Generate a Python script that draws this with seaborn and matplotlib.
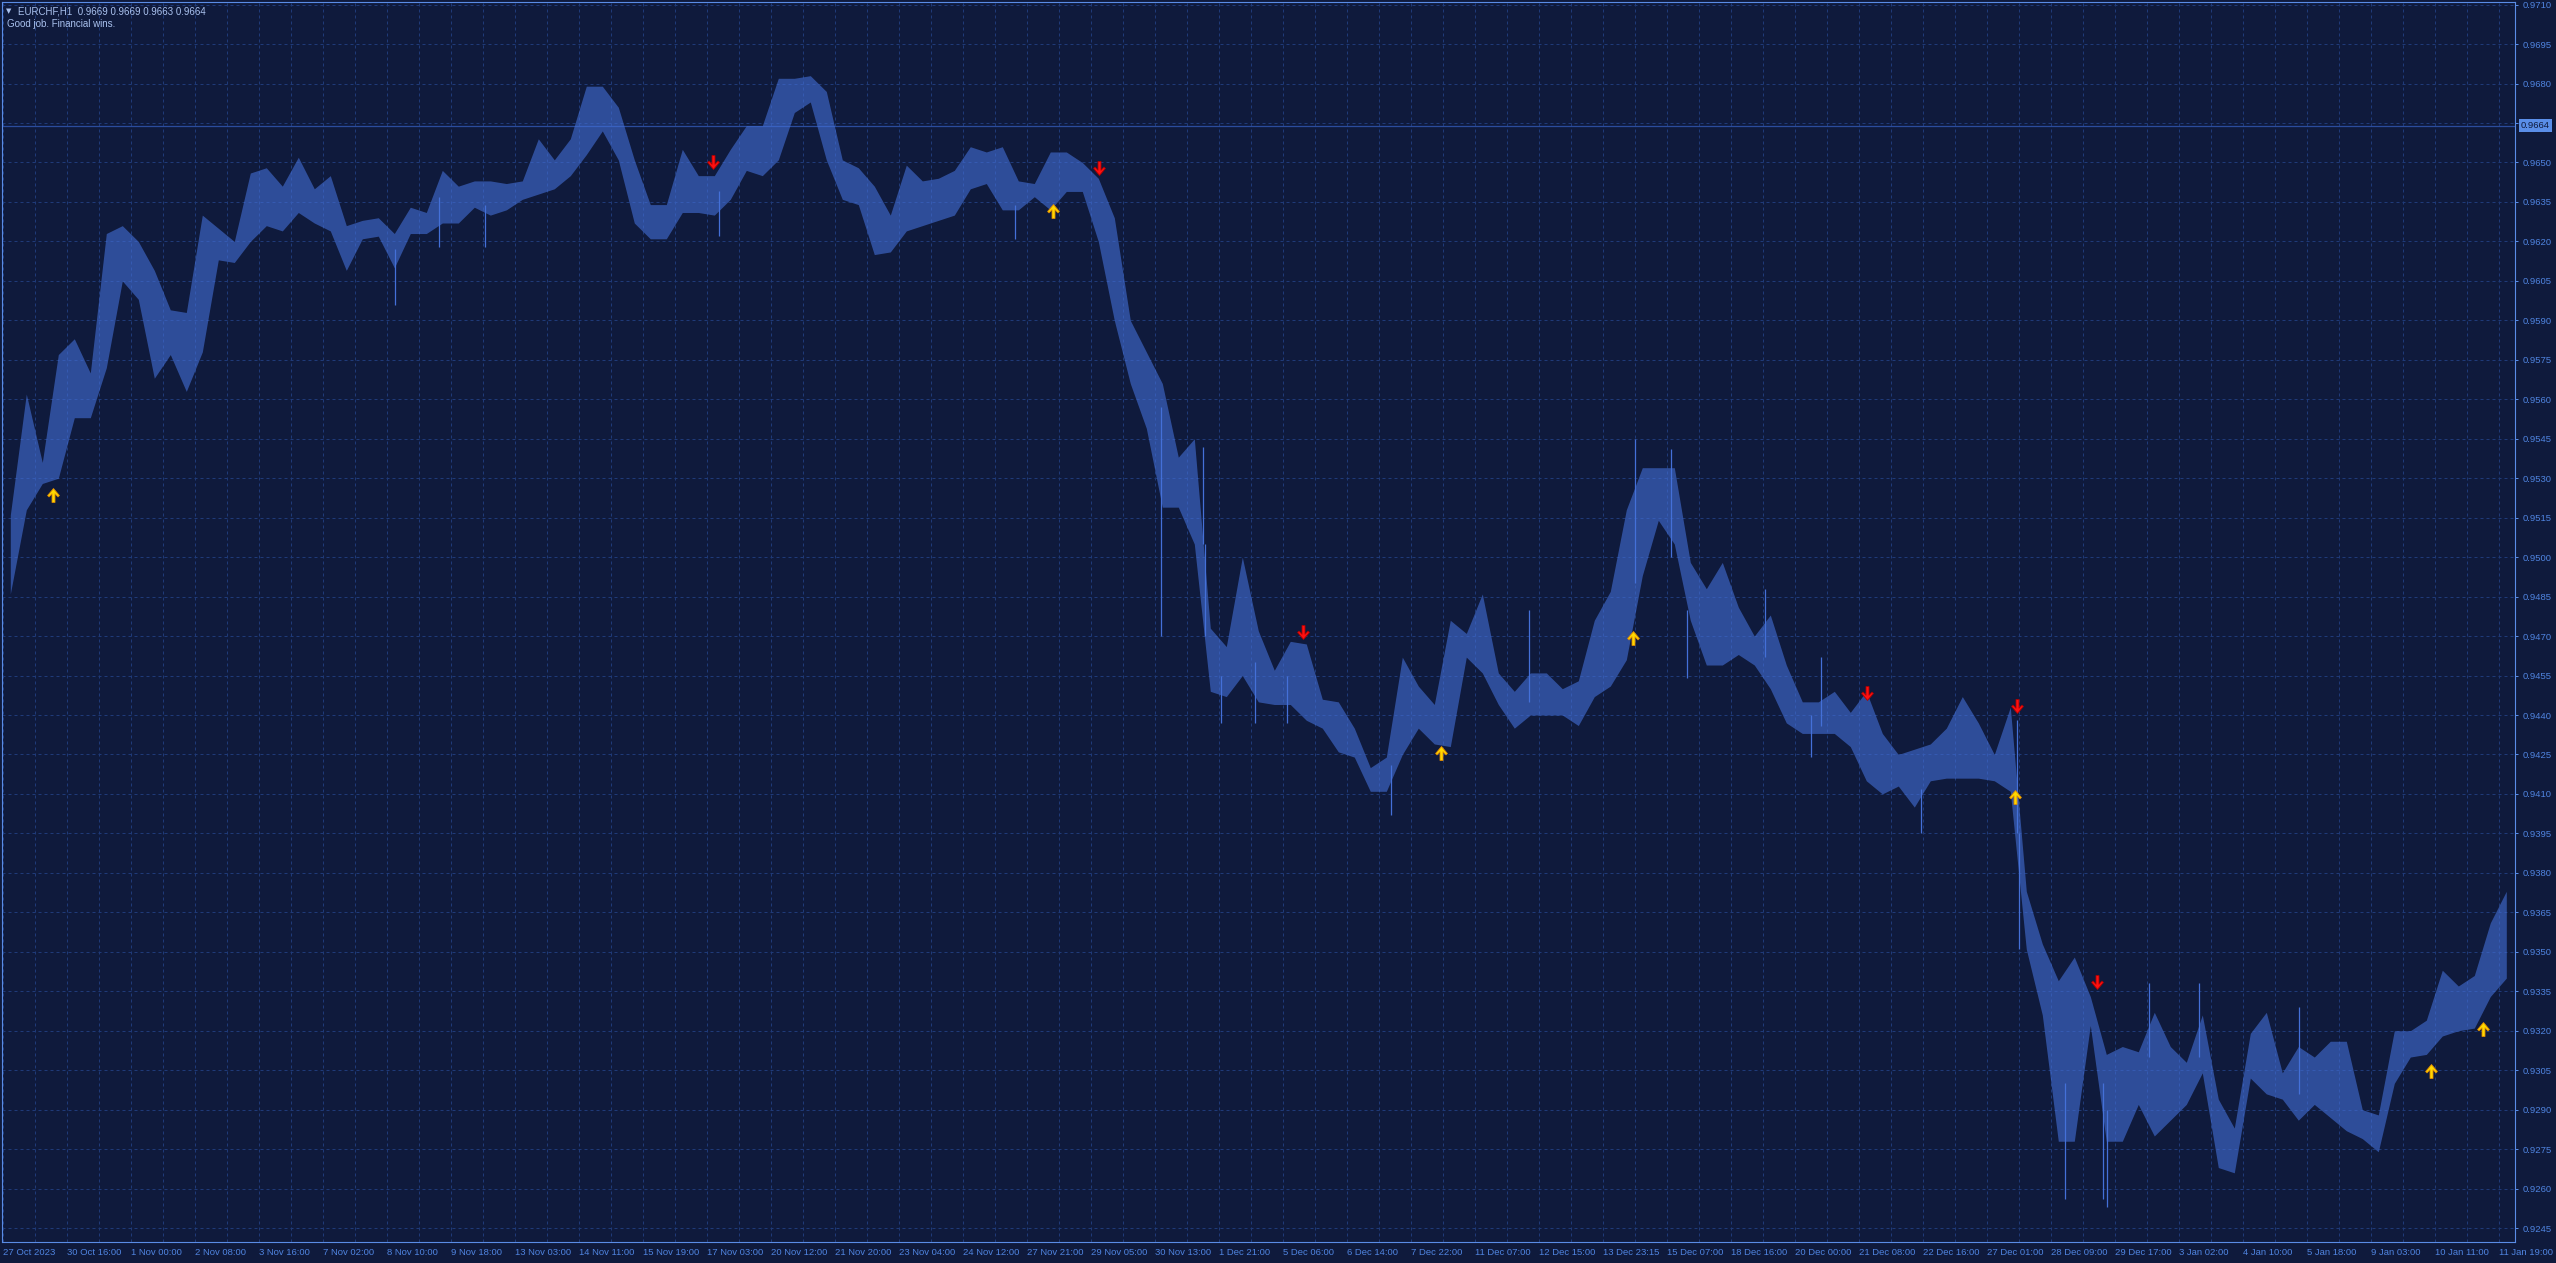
import numpy as np
import matplotlib
matplotlib.use("Agg")
import matplotlib.pyplot as plt
from matplotlib.path import Path
from matplotlib.markers import MarkerStyle
import seaborn as sns

# EURCHF H1 price range read per block of 8 hourly bars
block_high = [0.9516, 0.9562, 0.9536, 0.9577, 0.9583, 0.9570, 0.9623, 0.9626, 0.9620, 0.9609,
              0.9594, 0.9593, 0.9630, 0.9625, 0.9620, 0.9646, 0.9648, 0.9641, 0.9652, 0.9640,
              0.9645, 0.9626, 0.9628, 0.9629, 0.9623, 0.9633, 0.9631, 0.9647, 0.9641, 0.9643,
              0.9643, 0.9642, 0.9643, 0.9659, 0.9651, 0.9659, 0.9679, 0.9679, 0.9671, 0.9651,
              0.9634, 0.9634, 0.9655, 0.9645, 0.9645, 0.9655, 0.9664, 0.9664, 0.9682, 0.9682,
              0.9683, 0.9677, 0.9651, 0.9648, 0.9641, 0.9630, 0.9649, 0.9643, 0.9644, 0.9647,
              0.9656, 0.9654, 0.9656, 0.9643, 0.9642, 0.9654, 0.9654, 0.9650, 0.9644, 0.9629,
              0.9590, 0.9578, 0.9566, 0.9538, 0.9545, 0.9473, 0.9466, 0.9500, 0.9472, 0.9457,
              0.9468, 0.9467, 0.9446, 0.9445, 0.9435, 0.9420, 0.9424, 0.9462, 0.9451, 0.9444,
              0.9476, 0.9471, 0.9486, 0.9456, 0.9449, 0.9456, 0.9456, 0.9450, 0.9453, 0.9476,
              0.9487, 0.9518, 0.9534, 0.9534, 0.9534, 0.9498, 0.9488, 0.9498, 0.9481, 0.9470,
              0.9478, 0.9459, 0.9445, 0.9445, 0.9449, 0.9441, 0.9449, 0.9433, 0.9425, 0.9427,
              0.9429, 0.9435, 0.9447, 0.9437, 0.9425, 0.9443, 0.9373, 0.9353, 0.9339, 0.9348,
              0.9333, 0.9311, 0.9314, 0.9312, 0.9327, 0.9314, 0.9308, 0.9326, 0.9294, 0.9283,
              0.9319, 0.9327, 0.9304, 0.9314, 0.9310, 0.9316, 0.9316, 0.9290, 0.9288, 0.9320,
              0.9320, 0.9324, 0.9343, 0.9337, 0.9341, 0.9361, 0.9373]
block_low = [0.9486, 0.9518, 0.9528, 0.9530, 0.9553, 0.9553, 0.9572, 0.9605, 0.9598, 0.9568,
             0.9577, 0.9563, 0.9578, 0.9613, 0.9612, 0.9620, 0.9626, 0.9624, 0.9631, 0.9627,
             0.9624, 0.9609, 0.9621, 0.9622, 0.9610, 0.9623, 0.9623, 0.9627, 0.9627, 0.9633,
             0.9630, 0.9632, 0.9636, 0.9638, 0.9640, 0.9645, 0.9653, 0.9662, 0.9651, 0.9627,
             0.9621, 0.9621, 0.9631, 0.9631, 0.9630, 0.9636, 0.9647, 0.9645, 0.9651, 0.9669,
             0.9673, 0.9651, 0.9636, 0.9634, 0.9615, 0.9616, 0.9624, 0.9626, 0.9628, 0.9630,
             0.9640, 0.9642, 0.9632, 0.9632, 0.9637, 0.9632, 0.9639, 0.9639, 0.9620, 0.9590,
             0.9566, 0.9549, 0.9519, 0.9519, 0.9505, 0.9449, 0.9447, 0.9455, 0.9445, 0.9444,
             0.9444, 0.9438, 0.9435, 0.9426, 0.9424, 0.9411, 0.9411, 0.9425, 0.9435, 0.9429,
             0.9428, 0.9462, 0.9456, 0.9444, 0.9435, 0.9440, 0.9440, 0.9440, 0.9436, 0.9447,
             0.9451, 0.9461, 0.9493, 0.9514, 0.9505, 0.9476, 0.9459, 0.9459, 0.9463, 0.9459,
             0.9450, 0.9437, 0.9433, 0.9433, 0.9433, 0.9428, 0.9415, 0.9410, 0.9413, 0.9405,
             0.9415, 0.9416, 0.9416, 0.9416, 0.9415, 0.9411, 0.9351, 0.9326, 0.9278, 0.9278,
             0.9322, 0.9278, 0.9278, 0.9292, 0.9280, 0.9286, 0.9292, 0.9304, 0.9268, 0.9266,
             0.9302, 0.9296, 0.9294, 0.9286, 0.9292, 0.9287, 0.9282, 0.9279, 0.9274, 0.9300,
             0.9310, 0.9311, 0.9318, 0.9320, 0.9321, 0.9333, 0.9340]

# single hourly bars that stick out of their block
spike_bar = [196, 218, 241, 358, 506, 579, 600, 601, 609, 626, 642, 694, 763, 816, 834,
             842, 881, 904, 909, 959, 1007, 1008, 1031, 1050, 1052, 1073, 1098, 1148]
spike_high = [0.9617, 0.9637, 0.9634, 0.9639, 0.9634, 0.9557, 0.9542, 0.9505, 0.9455, 0.9460,
              0.9455, 0.9421, 0.9480, 0.9545, 0.9541, 0.9480, 0.9488, 0.9440, 0.9462, 0.9412,
              0.9438, 0.9395, 0.9300, 0.9300, 0.9290, 0.9338, 0.9338, 0.9329]
spike_low = [0.9596, 0.9618, 0.9618, 0.9622, 0.9621, 0.9470, 0.9505, 0.9470, 0.9437, 0.9437,
             0.9437, 0.9402, 0.9445, 0.9490, 0.9500, 0.9454, 0.9462, 0.9424, 0.9436, 0.9395,
             0.9395, 0.9351, 0.9256, 0.9256, 0.9253, 0.9310, 0.9310, 0.9296]

# signal arrows
up_bar = [25, 525, 719, 815, 1006, 1214, 1240]
up_price = [0.95236, 0.96317, 0.94254, 0.94694, 0.94088, 0.93047, 0.93205]
down_bar = [355, 548, 650, 932, 1007, 1047]
down_price = [0.96500, 0.96479, 0.94715, 0.94483, 0.94434, 0.93385]

time_labels = ["27 Oct 2023", "30 Oct 16:00", "1 Nov 00:00", "2 Nov 08:00", "3 Nov 16:00",
               "7 Nov 02:00", "8 Nov 10:00", "9 Nov 18:00", "13 Nov 03:00", "14 Nov 11:00",
               "15 Nov 19:00", "17 Nov 03:00", "20 Nov 12:00", "21 Nov 20:00", "23 Nov 04:00",
               "24 Nov 12:00", "27 Nov 21:00", "29 Nov 05:00", "30 Nov 13:00", "1 Dec 21:00",
               "5 Dec 06:00", "6 Dec 14:00", "7 Dec 22:00", "11 Dec 07:00", "12 Dec 15:00",
               "13 Dec 23:15", "15 Dec 07:00", "18 Dec 16:00", "20 Dec 00:00", "21 Dec 08:00",
               "22 Dec 16:00", "27 Dec 01:00", "28 Dec 09:00", "29 Dec 17:00", "3 Jan 02:00",
               "4 Jan 10:00", "5 Jan 18:00", "9 Jan 03:00", "10 Jan 11:00", "11 Jan 19:00"]
price_ticks = [0.9245 + 0.0015 * i for i in range(32)]
last_price = 0.9664

# colours
bg = "#0f1a3c"
grid_c = "#1f3a78"
bar_c = "#4470d8"
axis_c = "#5a8ce6"
text_c = "#4f84e0"
head_c = "#a9c1ee"

sns.set_theme(style="dark", rc={"axes.facecolor": bg, "figure.facecolor": bg,
                                "axes.edgecolor": axis_c, "grid.color": grid_c})
plt.rcParams["font.family"] = ["Liberation Sans", "DejaVu Sans"]

fig = plt.figure(figsize=(25.56, 12.63), dpi=100)
ax = fig.add_axes([2 / 2556, 21 / 1263, 2513 / 2556, 1240 / 1263])

# price band: range of each 8-bar block, joined from block to block
x_block = [8 * k + 3.5 for k in range(len(block_high))]
ax.fill_between(x_block, block_low, block_high, color=bar_c, alpha=0.6,
                linewidth=0, zorder=3)
ax.vlines(spike_bar, spike_low, spike_high, color=bar_c, lw=0.9, zorder=3)

# arrows
s = 1 / 13.0
up_verts = [(0, 6.5), (5.5, 0), (4.2, -1.3), (1.4, 1.6), (1.4, -6.5), (-1.4, -6.5),
            (-1.4, 1.6), (-4.2, -1.3), (-5.5, 0), (0, 6.5)]
up_path = Path([(a * s, b * s) for a, b in up_verts], closed=True)
down_path = Path([(a * s, -b * s) for a, b in up_verts], closed=True)
ax.scatter(up_bar, up_price, marker=MarkerStyle(up_path), s=100, color="#ffd800",
           edgecolors="#e08a00", linewidths=0.6, zorder=5)
ax.scatter(down_bar, down_price, marker=MarkerStyle(down_path), s=100, color="#ff1010",
           edgecolors="#b00000", linewidths=0.6, zorder=5)

# current price line
ax.axhline(last_price, color="#2b4c9c", lw=0.9, zorder=2)

ax.set_xlim(-0.65, 1255.85)
ax.set_ylim(0.92397, 0.97110)

ax.yaxis.tick_right()
ax.set_yticks(price_ticks)
ax.set_yticklabels(["%.4f" % p for p in price_ticks])
ax.set_xticks([32 * i for i in range(len(time_labels))])
ax.set_xticklabels(time_labels, ha="left")
ax.set_xticks([16 + 32 * i for i in range(len(time_labels) - 1)], minor=True)
ax.tick_params(axis="both", which="major", colors=axis_c, labelcolor=text_c,
               labelsize=6.8, length=2.5, width=0.72, direction="out", pad=2)
ax.tick_params(axis="x", which="minor", length=0)
ax.tick_params(axis="y", which="major", pad=3)

ax.grid(True, which="both", axis="x", color=grid_c, lw=0.72, linestyle=(0, (3, 3)))
ax.grid(True, which="major", axis="y", color=grid_c, lw=0.72, linestyle=(0, (3, 3)))
ax.set_axisbelow(True)
for sp in ax.spines.values():
    sp.set_color(axis_c)
    sp.set_linewidth(0.8)
    sp.set_visible(True)

# current price tag on the price scale
ax.text(1258.9, last_price, "%.4f" % last_price, ha="left", va="center", fontsize=6.8,
        color="#0f1a3c", clip_on=False, zorder=10,
        bbox=dict(boxstyle="square,pad=0.18", fc="#5a8ee8", ec="none"))

# chart header
fig.text(6 / 2556, 1 - 11 / 1263, "\u25bc", fontsize=5, color=head_c, va="center",
         family=["DejaVu Sans"])
fig.text(18 / 2556, 1 - 11 / 1263, "EURCHF,H1  0.9669 0.9669 0.9663 0.9664", fontsize=7,
         color=head_c, va="center")
fig.text(7 / 2556, 1 - 24 / 1263, "Good job. Financial wins.", fontsize=7,
         color=head_c, va="center")

fig.savefig("out.png", dpi=100, facecolor=bg)
